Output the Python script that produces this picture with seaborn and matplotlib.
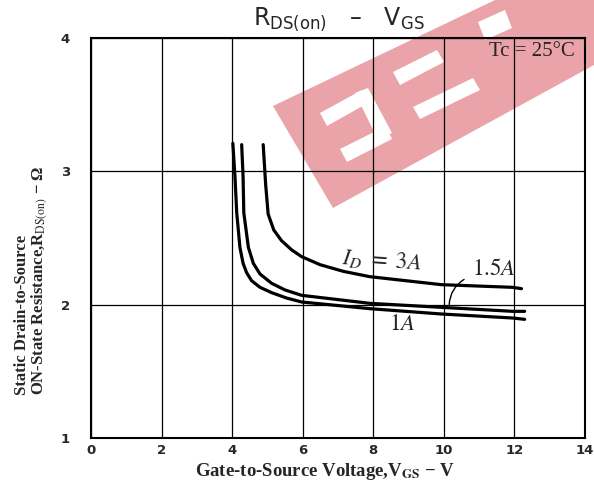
import pandas as pd
import matplotlib.pyplot as plt
import seaborn as sns
from matplotlib.patches import Polygon

# R_DS(on) vs V_GS curves
vgs_1a = [4.02, 4.08, 4.13, 4.22, 4.31, 4.41, 4.55, 4.79, 5.12, 5.54, 5.97, 7.90, 9.93, 11.95, 12.29]
rds_1a = [3.21, 2.96, 2.69, 2.43, 2.31, 2.24, 2.18, 2.13, 2.09, 2.05, 2.02, 1.97, 1.93, 1.90, 1.89]

vgs_15a = [4.27, 4.31, 4.33, 4.46, 4.60, 4.79, 5.12, 5.50, 5.97, 7.90, 9.93, 11.95, 12.29]
rds_15a = [3.20, 2.96, 2.69, 2.43, 2.31, 2.23, 2.16, 2.11, 2.07, 2.01, 1.98, 1.95, 1.95]

vgs_3a = [4.88, 4.95, 5.02, 5.18, 5.40, 5.69, 5.97, 6.49, 7.15, 7.90, 9.93, 11.95, 12.20]
rds_3a = [3.20, 2.90, 2.68, 2.56, 2.48, 2.41, 2.36, 2.30, 2.25, 2.21, 2.15, 2.13, 2.12]

x_ticks = [0, 2, 4, 6, 8, 10, 12, 14]
y_ticks = [1, 2, 3, 4]

df = pd.concat([
    pd.DataFrame({'vgs': vgs_1a, 'rds': rds_1a, 'id': '1A'}),
    pd.DataFrame({'vgs': vgs_15a, 'rds': rds_15a, 'id': '1.5A'}),
    pd.DataFrame({'vgs': vgs_3a, 'rds': rds_3a, 'id': '3A'}),
])

sns.set_style('white')
plt.rcParams['font.family'] = ['DejaVu Sans']
plt.rcParams['mathtext.fontset'] = 'stix'

W, H = 594, 491
fig = plt.figure(figsize=(W / 100, H / 100), dpi=100)
fig.patch.set_facecolor('white')
ax = fig.add_axes([91 / W, 1 - 438 / H, (585 - 91) / W, (438 - 38) / H])
ax.set_facecolor('none')


def px(pts):
    return [(x / W, 1 - y / H) for x, y in pts]


# watermark (pink band with white letter cut-outs)
pink = '#eaa3a8'
fig.add_artist(Polygon(px([(273, 106), (333, 208), (594, 65), (594, 0), (495, 0)]),
                       closed=True, fc=pink, ec='none', zorder=-2))
cutouts = [
    [(320, 113), (362, 90), (368, 103), (327, 126)],
    [(355, 93), (368, 88), (392, 133), (378, 140)],
    [(340, 149), (386, 126), (392, 139), (347, 162)],
    [(393, 72), (437, 50), (444, 62), (400, 85)],
    [(413, 107), (473, 78), (480, 90), (420, 119)],
    [(478, 22), (505, 10), (512, 28), (485, 40)],
]
for c in cutouts:
    fig.add_artist(Polygon(px(c), closed=True, fc='white', ec='none', zorder=-1))

sns.lineplot(data=df, x='vgs', y='rds', hue='id', palette=['black'] * 3,
             lw=2.3, legend=False, sort=False, estimator=None, ax=ax)

ax.set_xlim(0, 14)
ax.set_ylim(1, 4)
ax.set_xticks(x_ticks)
ax.set_yticks(y_ticks)
ax.set_xticklabels([str(t) for t in x_ticks], fontsize=9.5, fontweight='bold')
ax.set_yticklabels([str(t) for t in y_ticks], fontsize=9.5, fontweight='bold')
ax.tick_params(axis='x', length=0, pad=4)
ax.tick_params(axis='y', length=0, pad=15)
ax.grid(True, color='black', lw=0.9)
for s in ax.spines.values():
    s.set_color('black')
    s.set_linewidth(1.5)
ax.set_xlabel('')
ax.set_ylabel('')

# curve labels
ax.text(8.24, 2.33, r'$I_D\ =\ 3A$', fontsize=16.5, ha='center', va='center', rotation=-4)
ax.text(11.40, 2.27, r'$1.5A$', fontsize=16.5, ha='center', va='center')
ax.text(8.81, 1.86, r'$1A$', fontsize=16.5, ha='center', va='center')
ax.annotate('', xy=(10.15, 1.98), xytext=(10.64, 2.20),
            arrowprops=dict(arrowstyle='-', color='black', lw=1.0,
                            connectionstyle='arc3,rad=0.3'))
ax.text(13.72, 3.895, 'Tc = 25°C', family='Liberation Serif', fontsize=15,
        ha='right', va='center')

# title and axis labels
fig.text(339 / W, 1 - 19 / H, r'$\mathregular{R_{DS(on)}}$   –   $\mathregular{V_{GS}}$',
         fontsize=17, ha='center', va='center')
fig.text(325 / W, 1 - 472 / H, r'Gate-to-Source Voltage,V$_{\mathbf{GS}}$ − V',
         family='Liberation Serif', fontweight='bold', fontsize=13.5, ha='center', va='center')
fig.text(22 / W, 1 - 395 / H, 'Static Drain-to-Source', family='Liberation Serif',
         fontweight='bold', fontsize=12, rotation=90, rotation_mode='anchor',
         ha='left', va='center')
fig.text(40 / W, 1 - 395 / H, r'ON-State Resistance,R$_{\mathrm{DS(on)}}$ − Ω',
         family='Liberation Serif', fontweight='bold', fontsize=12, rotation=90,
         rotation_mode='anchor', ha='left', va='center')

fig.savefig('out.png', dpi=100)
